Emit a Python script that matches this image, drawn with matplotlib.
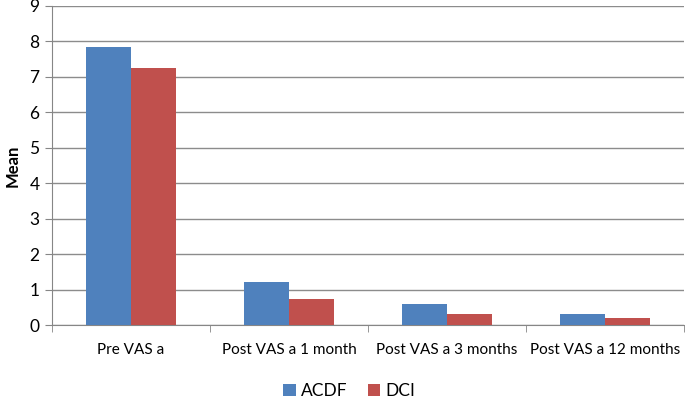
import matplotlib.pyplot as plt
import numpy as np

categories = ["Pre VAS a", "Post VAS a 1 month", "Post VAS a 3 months", "Post VAS a 12 months"]
acdf = [7.85, 1.2, 0.6, 0.32]
dci = [7.26, 0.72, 0.32, 0.2]
series_names = ["ACDF", "DCI"]
y_ticks = list(range(0, 10))

plt.rcParams['font.family'] = ['Lato', 'DejaVu Sans']

fig = plt.figure(figsize=(6.85, 4.0), dpi=100)
ax = fig.add_axes([0.076, 0.1875, 0.9225, 0.7975])

x = np.arange(len(categories))
w = 1 / 3.5
ax.bar(x - w / 2, acdf, w, color='#4F81BD', label=series_names[0], zorder=3)
ax.bar(x + w / 2, dci, w, color='#C0504D', label=series_names[1], zorder=3)

ax.set_xlim(-0.5, len(categories) - 0.5)
ax.set_ylim(0, 9)
ax.set_yticks(y_ticks)
ax.tick_params(axis='y', labelsize=12.5, length=5, color='#868686', pad=4)
ax.yaxis.grid(True, color='#8c8c8c', linewidth=1, zorder=0)

ax.set_xticks(x)
ax.set_xticklabels(categories, fontsize=11)
ax.tick_params(axis='x', length=0, pad=13)
ax.set_xticks(np.arange(len(categories) + 1) - 0.5, minor=True)
ax.tick_params(axis='x', which='minor', length=5, color='#868686')

for side in ['top', 'right']:
    ax.spines[side].set_visible(False)
for side in ['left', 'bottom']:
    ax.spines[side].set_color('#868686')

ax.set_ylabel("Mean", fontsize=12, fontweight='bold', labelpad=6)

fig.legend(loc='lower center', bbox_to_anchor=(0.51, 0.003), ncol=2, frameon=False,
           borderpad=0, borderaxespad=0,
           fontsize=12.5, handlelength=0.7, handleheight=0.7, columnspacing=1.2, handletextpad=0.3)

fig.savefig("out.png", dpi=100)
